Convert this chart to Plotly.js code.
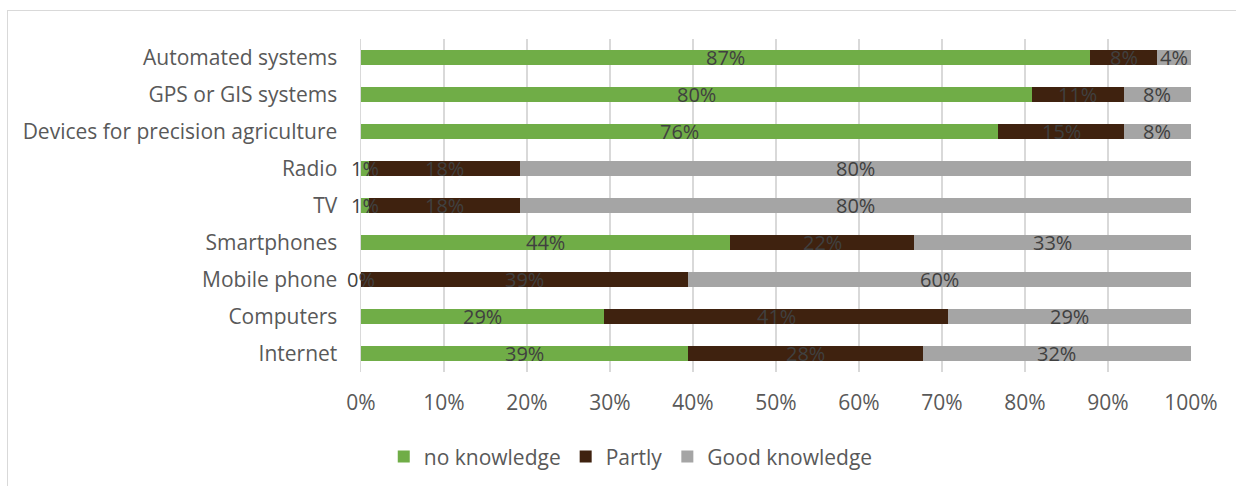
<!DOCTYPE html>
<html>
<head>
<meta charset="utf-8">
<script src="https://cdn.plot.ly/plotly-3.0.1.min.js"></script>
<style>
  html, body { margin: 0; padding: 0; background: #ffffff; }
  #wrap { position: relative; width: 1236px; height: 486px; overflow: hidden; }
  #chart { width: 1236px; height: 486px; }
  #frame { position: absolute; left: 7px; top: 10px; width: 1400px; height: 700px;
           border: 1.5px solid #d9d9d9; pointer-events: none; box-sizing: border-box; }
</style>
</head>
<body>
<div id="wrap">
  <div id="chart"></div>
  <div id="frame"></div>
</div>
<script>
const categories = ['Automated systems', 'GPS or GIS systems', 'Devices for precision agriculture',
  'Radio', 'TV', 'Smartphones', 'Mobile phone', 'Computers', 'Internet'];
const noKnowledge = [87, 80, 76, 1, 1, 44, 0, 29, 39];
const partly = [8, 11, 15, 18, 18, 22, 39, 41, 28];
const goodKnowledge = [4, 8, 8, 80, 80, 33, 60, 29, 32];
const seriesNames = ['no knowledge', 'Partly', 'Good knowledge'];
const seriesColors = ['#70ad47', '#3f220f', '#a5a5a5'];
const tickValues = [0, 10, 20, 30, 40, 50, 60, 70, 80, 90, 100];

const FONT = '"Open Sans", "Noto Sans", sans-serif';
const series = [noKnowledge, partly, goodKnowledge];

const traces = series.map((vals, i) => ({
  type: 'bar',
  orientation: 'h',
  name: seriesNames[i],
  y: categories,
  x: vals,
  textposition: 'none',
  cliponaxis: false,
  marker: { color: seriesColors[i], line: { width: 0 } },
  hoverinfo: 'name+y+x'
}));

// Data labels: placed at the centre of each (percent-normalised) segment,
// drawn as annotations so they sit on top of all bars like the original.
const annotations = [];
categories.forEach((cat, j) => {
  const total = series.reduce((s, arr) => s + arr[j], 0);
  let cum = 0;
  series.forEach((arr) => {
    const v = arr[j];
    const mid = (cum + v / 2) / total * 100;
    cum += v;
    annotations.push({
      x: mid, y: cat, xref: 'x', yref: 'y',
      text: v + '%', showarrow: false, xanchor: 'center', yanchor: 'middle',
      font: { family: FONT, size: 20, color: '#404040' }
    });
  });
});

const layout = {
  width: 1236,
  height: 486,
  margin: { l: 361, r: 45, t: 39, b: 114, autoexpand: false },
  paper_bgcolor: '#ffffff',
  plot_bgcolor: '#ffffff',
  barmode: 'stack',
  barnorm: 'percent',
  bargap: 0.6,
  showlegend: true,
  font: { family: FONT, size: 21, color: '#595959' },
  xaxis: {
    range: [0, 100],
    tickvals: tickValues,
    ticktext: tickValues.map(v => v + '%'),
    showgrid: true,
    gridcolor: '#d9d9d9',
    gridwidth: 1.5,
    zeroline: false,
    showline: false,
    ticks: '',
    ticklabelstandoff: 16,
    tickfont: { family: FONT, size: 21, color: '#595959' },
    automargin: false,
    fixedrange: true
  },
  yaxis: {
    autorange: 'reversed',
    showgrid: false,
    zeroline: false,
    showline: true,
    linecolor: '#d9d9d9',
    linewidth: 1.5,
    ticks: '',
    ticklabelstandoff: 18,
    tickfont: { family: FONT, size: 21, color: '#595959' },
    automargin: false,
    fixedrange: true
  },
  legend: {
    orientation: 'h',
    x: 0.325, xanchor: 'center',
    y: -0.255, yanchor: 'middle',
    font: { family: FONT, size: 21, color: '#595959' },
    traceorder: 'normal',
    itemclick: false, itemdoubleclick: false
  },
  annotations: annotations
};

Plotly.newPlot('chart', traces, layout, { displayModeBar: false, staticPlot: true });
</script>
</body>
</html>
